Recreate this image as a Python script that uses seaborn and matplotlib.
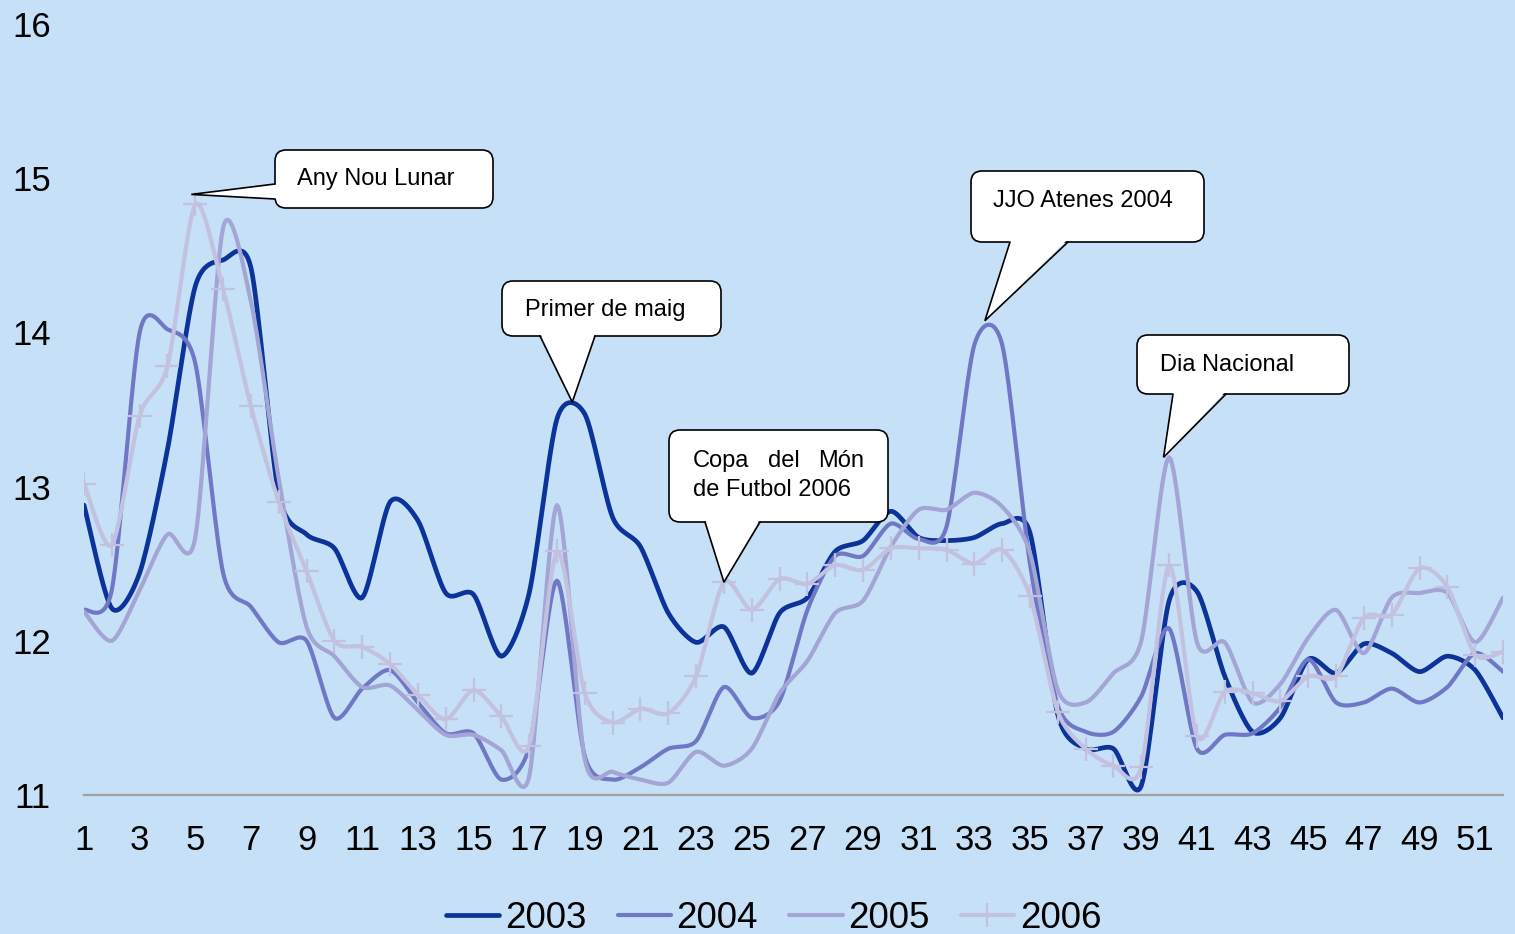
"""Evolució setmanal 2003-2006 amb esdeveniments destacats."""

import matplotlib.pyplot as plt
import numpy as np
import seaborn as sns
from matplotlib.lines import Line2D
from matplotlib.patches import FancyBboxPatch, Polygon

setmanes = list(range(1, 53))

s2003 = [12.88, 12.21, 12.44, 13.24, 14.30, 14.47, 14.42, 12.95, 12.69, 12.60,
         12.28, 12.90, 12.78, 12.31, 12.30, 11.90, 12.31, 13.44, 13.47, 12.80,
         12.61, 12.18, 11.99, 12.09, 11.79, 12.18, 12.28, 12.58, 12.65, 12.84,
         12.67, 12.65, 12.67, 12.76, 12.70, 11.52, 11.30, 11.30, 11.06, 12.26,
         12.32, 11.77, 11.41, 11.50, 11.88, 11.79, 11.98, 11.92, 11.80, 11.90,
         11.81, 11.50]
s2004 = [12.20, 12.33, 14.00, 14.02, 13.80, 12.44, 12.22, 11.99, 12.00, 11.50,
         11.69, 11.81, 11.60, 11.40, 11.40, 11.10, 11.31, 12.39, 11.25, 11.10,
         11.18, 11.30, 11.35, 11.70, 11.50, 11.61, 12.20, 12.55, 12.55, 12.76,
         12.66, 12.74, 13.92, 13.92, 12.50, 11.58, 11.41, 11.41, 11.64, 12.08,
         11.30, 11.39, 11.40, 11.57, 11.88, 11.60, 11.60, 11.69, 11.60, 11.70,
         11.92, 11.80]
s2005 = [12.19, 12.00, 12.33, 12.69, 12.67, 14.68, 14.20, 13.05, 12.09, 11.90,
         11.70, 11.71, 11.55, 11.39, 11.39, 11.29, 11.12, 12.88, 11.23, 11.15,
         11.10, 11.08, 11.28, 11.19, 11.30, 11.66, 11.87, 12.18, 12.26, 12.61,
         12.85, 12.85, 12.96, 12.87, 12.57, 11.68, 11.60, 11.79, 12.00, 13.19,
         11.99, 11.99, 11.60, 11.72, 12.02, 12.20, 11.92, 12.28, 12.31, 12.31,
         11.99, 12.28]
s2006 = [13.02, 12.62, 13.46, 13.78, 14.83, 14.28, 13.52, 12.90, 12.45, 12.00,
         11.96, 11.85, 11.65, 11.49, 11.68, 11.51, 11.32, 12.58, 11.66, 11.47,
         11.56, 11.53, 11.77, 12.38, 12.20, 12.40, 12.37, 12.49, 12.46, 12.60,
         12.60, 12.59, 12.50, 12.59, 12.29, 11.54, 11.30, 11.19, 11.18, 12.49,
         11.38, 11.67, 11.66, 11.61, 11.77, 11.77, 12.15, 12.17, 12.47, 12.35,
         11.91, 11.93]

anys = ["2003", "2004", "2005", "2006"]
series = [s2003, s2004, s2005, s2006]
colors = ["#0b3399", "#7078c6", "#a3a5d5", "#c2c2e0"]
widths = [3.4, 3.0, 3.0, 3.0]

W, H = 1515, 934
BG = "#c6e0f7"


def suavitzar(x, y, n=16, k=0.8):
    """Corba suavitzada tipus Excel (spline cardinal) per dibuixar la línia."""
    pts = np.column_stack([x, y]).astype(float)
    pad = np.vstack([pts[0], pts, pts[-1]])
    t = np.linspace(0, 1, n, endpoint=False)[:, None]
    h00 = 2 * t**3 - 3 * t**2 + 1
    h10 = t**3 - 2 * t**2 + t
    h01 = -2 * t**3 + 3 * t**2
    h11 = t**3 - t**2
    out = []
    for i in range(len(pts) - 1):
        p0, p1, p2, p3 = pad[i], pad[i + 1], pad[i + 2], pad[i + 3]
        m1 = k * (p2 - p0) / 2
        m2 = k * (p3 - p1) / 2
        out.append(h00 * p1 + h10 * m1 + h01 * p2 + h11 * m2)
    out.append(pts[-1:])
    c = np.vstack(out)
    return c[:, 0], c[:, 1]


sns.set_theme(style="white")
plt.rcParams["font.family"] = ["Liberation Sans", "DejaVu Sans"]
plt.rcParams["text.color"] = "black"

fig = plt.figure(figsize=(W / 100, H / 100), dpi=100, facecolor=BG)
ax = fig.add_axes([84 / W, 1 - 795 / H, (1503 - 84) / W, (795 - 24) / H])
ax.set_facecolor(BG)

for i, (vals, col, lw) in enumerate(zip(series, colors, widths)):
    xs, ys = suavitzar(setmanes, vals)
    sns.lineplot(x=xs, y=ys, ax=ax, color=col, linewidth=lw, sort=False,
                 estimator=None, legend=False, zorder=2 + i)
ax.plot(setmanes, s2006, linestyle="none", marker="+", markersize=17,
        markeredgewidth=1.6, color=colors[3], zorder=6)

ax.set_xlim(1, 52)
ax.set_ylim(11, 16)
ax.set_xticks(range(1, 52, 2))
ax.set_yticks(range(11, 17))
ax.tick_params(axis="x", length=0, pad=21, labelsize=25, labelcolor="black")
ax.tick_params(axis="y", length=0, pad=24, labelsize=25, labelcolor="black")
ax.set_xlabel("")
ax.set_ylabel("")
for side in ["top", "right", "left"]:
    ax.spines[side].set_visible(False)
ax.spines["bottom"].set_color("#a0a0a0")
ax.spines["bottom"].set_linewidth(1.6)

handles = [
    Line2D([], [], color=colors[0], lw=3.4),
    Line2D([], [], color=colors[1], lw=3.0),
    Line2D([], [], color=colors[2], lw=3.0),
    Line2D([], [], color=colors[3], lw=3.0, marker="+", markersize=17, markeredgewidth=1.6),
]
fig.legend(handles, anys, loc="center", bbox_to_anchor=(0.5106, 1 - 918 / H),
           ncol=4, frameon=False, fontsize=26.5, handlelength=1.45,
           handletextpad=0.15, columnspacing=0.85, borderpad=0, labelcolor="black")

# capa en píxels per als globus de text
ov = fig.add_axes([0, 0, 1, 1], zorder=10)
ov.set_xlim(0, W)
ov.set_ylim(H, 0)
ov.axis("off")
ov.patch.set_alpha(0)


def a_pixel(x, y):
    dx, dy = ax.transData.transform((x, y))
    return dx, H - dy


def globus(box, base, punta, textos):
    x0, y0, x1, y1 = box
    ov.add_patch(FancyBboxPatch((x0, y0), x1 - x0, y1 - y0,
                                boxstyle="round,pad=0,rounding_size=11",
                                fc="white", ec="black", lw=1.2, zorder=1))
    (ax1, ay1), (ax2, ay2) = base
    # omple una mica dins la caixa per tapar la vora
    if ay1 == ay2:
        ins = [(ax1, ay1 - 3), punta, (ax2, ay2 - 3)]
    else:
        ins = [(ax1 + 3, ay1), punta, (ax2 + 3, ay2)]
    ov.add_patch(Polygon(ins, closed=True, fc="white", ec="none", zorder=2))
    ov.plot([ax1, punta[0], ax2], [ay1, punta[1], ay2], color="black", lw=1.2,
            zorder=3, solid_joinstyle="miter")
    for (tx, ty, s, ha) in textos:
        ov.text(tx, ty, s, ha=ha, va="center", fontsize=17, color="black", zorder=4)


px, py = a_pixel(5, s2006[4])
globus((275, 150, 493, 208), ((275, 184), (275, 199)), (px - 4, py - 10),
       [(297, 179, "Any Nou Lunar", "left")])

px, py = a_pixel(18.55, max(s2003[17], s2003[18]))
globus((502, 281, 721, 336), ((540, 336), (595, 336)), (px, py - 12),
       [(525, 310, "Primer de maig", "left")])

px, py = a_pixel(24, s2006[23])
globus((669, 430, 888, 522), ((705, 522), (760, 522)), (px, py),
       [(693, 461, "Copa", "left"), (784, 461, "del", "center"),
        (864, 461, "Món", "right"), (693, 490, "de Futbol 2006", "left")])

px, py = a_pixel(33.45, s2004[33])
globus((971, 171, 1204, 242), ((1010, 242), (1068, 242)), (px - 2, py - 24),
       [(993, 201, "JJO Atenes 2004", "left")])

px, py = a_pixel(39.8, s2005[39])
globus((1137, 335, 1349, 394), ((1173, 394), (1226, 394)), (px, py),
       [(1160, 365, "Dia Nacional", "left")])

fig.savefig("out.png", dpi=100, facecolor=BG)
